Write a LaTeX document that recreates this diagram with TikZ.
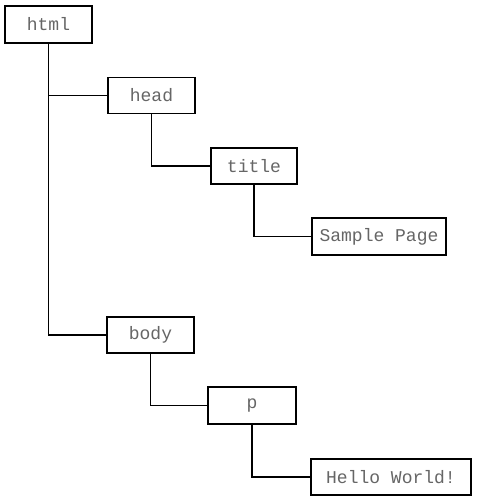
\documentclass[tikz,border=0pt]{standalone}
\usepackage{fontspec}
\setmonofont{Liberation Mono}
\begin{document}
\begin{tikzpicture}[x=1pt,y=-1pt,
  tag/.style={draw=black, line width=1.6pt, fill=white, rectangle, inner sep=0pt,
    font=\ttfamily\fontsize{18}{20}\selectfont, text=black!60, minimum height=36pt},
  link/.style={draw=black, line width=1.3pt}]
\useasboundingbox (0,0) rectangle (479,503);
\node[tag, minimum width=87pt, minimum height=37pt] (html) at (48.5,24.5) {html};
\node[tag, minimum width=87pt] (head) at (151.5,95.5) {head};
\node[tag, minimum width=86pt] (title) at (254,166) {title};
\node[tag, minimum width=134pt, minimum height=37pt] (sample) at (379,236.5) {Sample Page};
\node[tag, minimum width=87pt] (body) at (150.5,335) {body};
\node[tag, minimum width=88pt, minimum height=37pt] (p) at (252,405.5) {p};
\node[tag, minimum width=160pt] (hello) at (391,477) {Hello World!};
\draw[link] (html.south) |- (body.west);
\draw[link, line width=1pt] (html.south |- head.west) -- (head.west);
\draw[link] (head.south) |- (title.west);
\draw[link] (title.south) |- (sample.west);
\draw[link] (body.south) |- (p.west);
\draw[link] (p.south) |- (hello.west);
\end{tikzpicture}
\end{document}
